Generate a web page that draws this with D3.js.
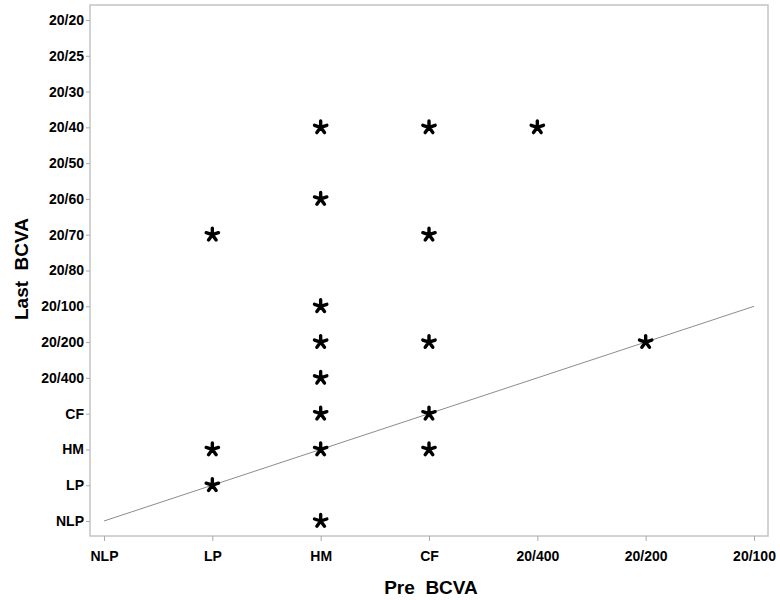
<!DOCTYPE html>
<html>
<head>
<meta charset="utf-8">
<script src="https://cdn.jsdelivr.net/npm/d3@7"></script>
<style>
  html, body { margin: 0; padding: 0; background: #fff; }
  text { font-family: "Liberation Sans", Arial, Helvetica, sans-serif; }
</style>
</head>
<body>
<svg id="chart" width="780" height="600"></svg>
<script>
// Categories
const xCategories = ["NLP", "LP", "HM", "CF", "20/400", "20/200", "20/100"];
const yCategories = ["NLP", "LP", "HM", "CF", "20/400", "20/200", "20/100", "20/80", "20/70", "20/60", "20/50", "20/40", "20/30", "20/25", "20/20"];

// Data points: pre BCVA (x) vs last BCVA (y)
const preBCVA  = ["HM", "CF", "20/400", "HM", "LP", "CF", "HM", "HM", "CF", "20/200", "HM", "HM", "CF", "LP", "HM", "CF", "LP", "HM"];
const lastBCVA = ["20/40", "20/40", "20/40", "20/60", "20/70", "20/70", "20/100", "20/200", "20/200", "20/200", "20/400", "CF", "CF", "HM", "HM", "HM", "LP", "NLP"];

// Reference line (no change): from NLP/NLP to 20/100 / 20/100
const refLineX = ["NLP", "20/100"];
const refLineY = ["NLP", "20/100"];

const svg = d3.select("#chart");
const frame = { left: 90, right: 768, top: 5, bottom: 536 };

const x = d3.scalePoint().domain(xCategories).range([104, 754]);
const y = d3.scalePoint().domain(yCategories).range([521, 20]);

// Frame
svg.append("rect")
  .attr("x", frame.left).attr("y", frame.top)
  .attr("width", frame.right - frame.left).attr("height", frame.bottom - frame.top)
  .attr("fill", "none").attr("stroke", "#c4c4c4").attr("stroke-width", 1.5);

// X axis
const xAxis = svg.append("g")
  .attr("transform", `translate(0,${frame.bottom})`)
  .call(d3.axisBottom(x).tickSize(5).tickPadding(10));
xAxis.select(".domain").remove();
xAxis.selectAll(".tick line").attr("stroke", "#aaa");
xAxis.selectAll(".tick text")
  .attr("fill", "#000").attr("font-size", 14).attr("font-weight", "bold")
  .attr("font-family", "'Liberation Sans', Arial, sans-serif");

// Y axis
const yAxis = svg.append("g")
  .attr("transform", `translate(${frame.left},0)`)
  .call(d3.axisLeft(y).tickSize(4).tickPadding(2));
yAxis.select(".domain").remove();
yAxis.selectAll(".tick line").attr("stroke", "#aaa");
yAxis.selectAll(".tick text")
  .attr("fill", "#000").attr("font-size", 14).attr("font-weight", "bold")
  .attr("font-family", "'Liberation Sans', Arial, sans-serif");

// Reference line
svg.append("line")
  .attr("x1", x(refLineX[0])).attr("y1", y(refLineY[0]))
  .attr("x2", x(refLineX[1])).attr("y2", y(refLineY[1]))
  .attr("stroke", "#8c8c8c").attr("stroke-width", 1);

// Five-arm asterisk symbol
const asterisk5 = {
  draw(context, size) {
    const r = Math.sqrt(size);
    for (let k = 0; k < 5; k++) {
      const a = -Math.PI / 2 + k * 2 * Math.PI / 5;
      context.moveTo(0, 0);
      context.lineTo(r * Math.cos(a), r * Math.sin(a));
    }
  }
};
const sym = d3.symbol().type(asterisk5).size(42);

svg.append("g").selectAll("path")
  .data(preBCVA.map((p, i) => ({ pre: p, last: lastBCVA[i] })))
  .join("path")
  .attr("transform", d => `translate(${x(d.pre)},${y(d.last)})`)
  .attr("d", sym)
  .attr("fill", "none")
  .attr("stroke", "#000")
  .attr("stroke-width", 3.4)
  .attr("stroke-linecap", "round");

// Axis titles
svg.append("text")
  .attr("x", 431).attr("y", 594)
  .attr("text-anchor", "middle")
  .attr("font-size", 19).attr("font-weight", "bold").attr("fill", "#000")
  .attr("xml:space", "preserve")
  .text("Pre  BCVA");

svg.append("text")
  .attr("transform", "translate(28,269) rotate(-90)")
  .attr("text-anchor", "middle")
  .attr("font-size", 19).attr("font-weight", "bold").attr("fill", "#000")
  .attr("xml:space", "preserve")
  .text("Last  BCVA");
</script>
</body>
</html>
